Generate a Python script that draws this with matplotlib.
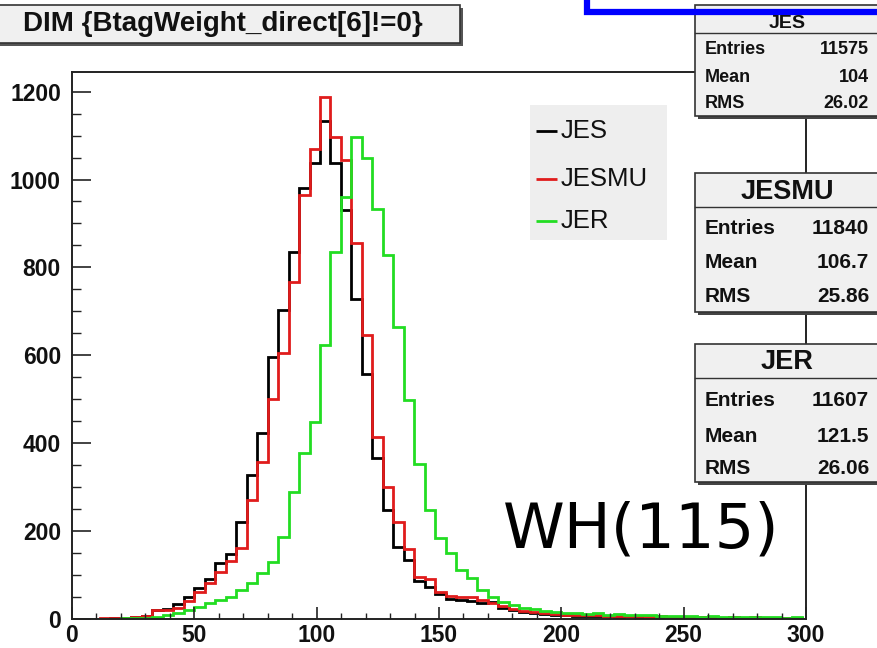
import numpy as np
import matplotlib
matplotlib.use("Agg")
import matplotlib.pyplot as plt
from matplotlib.patches import Rectangle
from matplotlib.ticker import MultipleLocator

# ---------------- data ----------------
x_min, x_max, n_bins = -1.5, 298.5, 70
jes = [0, 0, 0, 0, 1, 2, 4, 5,
       20, 21, 34, 50, 70, 90, 126, 147,
       220, 327, 422, 596, 703, 836, 980, 1037,
       1134,
       1037, 930, 729, 558, 365, 247, 164, 133,
       85, 72, 55, 45, 42, 40, 35, 38, 25, 20, 15, 12, 10, 8,
       7, 6, 6, 5, 5, 4, 5, 4, 3, 4, 3, 3, 2, 3, 2, 2, 3, 2, 1, 2, 2, 1, 2]
jesmu = [0, 0, 0, 1, 1, 2, 4, 6,
         19, 19, 23, 40, 60, 80, 107, 130,
         160, 270, 357, 500, 605, 767, 965, 1069,
         1187,
         1096, 1044, 855, 646, 414, 300, 220, 158,
         95, 90, 60, 52, 50, 48, 42, 35, 28, 22, 18, 15, 12, 10,
         9, 8, 7, 7, 6, 5, 6, 5, 4, 5, 4, 3, 4, 3, 3, 2, 3, 2, 3, 2, 1, 2, 2]
jer = [0, 0, 0, 0, 0, 1, 1, 2, 4,
       8, 12, 19, 27, 35, 42, 50, 65, 80, 103,
       129, 186, 289, 376, 448, 623, 836, 961,
       1096,
       1048, 934, 828, 665, 498, 353, 247, 183, 149, 110, 92, 65, 50, 38, 31, 25, 22, 18, 15,
       13, 12, 11, 12, 9, 10, 8, 7, 8, 6, 5, 6, 5, 4, 5, 4, 3, 4, 3, 4, 3, 2, 3]

series_names = ["JES", "JESMU", "JER"]
series_colors = ["#000000", "#e01c1c", "#22dd22"]
stats = {
    "JES": [("Entries", "11575"), ("Mean", "104"), ("RMS", "26.02")],
    "JESMU": [("Entries", "11840"), ("Mean", "106.7"), ("RMS", "25.86")],
    "JER": [("Entries", "11607"), ("Mean", "121.5"), ("RMS", "26.06")],
}
title = "DIM {BtagWeight_direct[6]!=0}"
annotation = "WH(115)"
x_ticks = [0, 50, 100, 150, 200, 250, 300]
y_ticks = [0, 200, 400, 600, 800, 1000, 1200]

# ---------------- figure ----------------
W, H = 877, 648
fig = plt.figure(figsize=(W / 100, H / 100), dpi=100)
fig.patch.set_facecolor("white")

def fx(x):
    return x / W

def fy(y):
    return 1 - y / H

ax_l, ax_r, ax_t, ax_b = 72, 806, 72, 618.5
ax = fig.add_axes([fx(ax_l), fy(ax_b), (ax_r - ax_l) / W, (ax_b - ax_t) / H])

edges = np.linspace(x_min, x_max, n_bins + 1)
for vals, col in zip([jes, jesmu, jer], series_colors):
    ax.stairs(vals, edges, color=col, lw=2.0, baseline=0)

ax.set_xlim(0, 300)
ax.set_ylim(0, 1245)
for s in ax.spines.values():
    s.set_linewidth(1.4)
    s.set_color("#222222")

ax.set_xticks(x_ticks)
ax.set_yticks(y_ticks)
ax.xaxis.set_minor_locator(MultipleLocator(10))
ax.yaxis.set_minor_locator(MultipleLocator(50))
px = 0.72
ax.tick_params(axis="x", which="major", direction="in", length=12 * px, width=1.2, pad=4, color="#222222")
ax.tick_params(axis="x", which="minor", direction="in", length=6 * px, width=1.0, color="#222222")
ax.tick_params(axis="y", which="major", direction="in", length=19 * px, width=1.2, pad=8, color="#222222")
ax.tick_params(axis="y", which="minor", direction="in", length=9 * px, width=1.0, color="#222222")
for lab in ax.get_xticklabels() + ax.get_yticklabels():
    lab.set_fontfamily("Liberation Sans")
    lab.set_fontweight("bold")
    lab.set_fontsize(16.5)
    lab.set_color("#111111")

# ---------------- overlay ----------------
ov = fig.add_axes([0, 0, 1, 1], zorder=10)
ov.set_xlim(0, W)
ov.set_ylim(H, 0)
ov.axis("off")
ov.patch.set_alpha(0)

box_fc = "#f0f0f0"
edge_c = "#333333"

# title box
ov.add_patch(Rectangle((-5, 8), 468, 38, fc="#555555", ec="none"))
ov.add_patch(Rectangle((-5, 5), 465, 38, fc=box_fc, ec=edge_c, lw=1.2))
ov.text(223, 24, title, ha="center", va="center", fontsize=20,
        fontfamily="Liberation Sans", fontweight="bold", color="#111111")

# legend
ov.add_patch(Rectangle((530, 105), 137, 135, fc="#eeeeee", ec="none"))
for i, (name, col) in enumerate(zip(series_names, series_colors)):
    yy = [131, 179, 221][i]
    ov.plot([536, 557], [yy, yy], color=col, lw=2.0, solid_capstyle="butt")
    ov.text(561, yy, name, ha="left", va="center", fontsize=18.5,
            fontfamily="Liberation Sans", color="#111111")

# stats boxes
def stat_box(name, y0, y1, ydiv, yhead, hsize, row_ys, rsize):
    ov.add_patch(Rectangle((698, y0 + 3), 200, y1 - y0, fc="#444444", ec="none"))
    ov.add_patch(Rectangle((695, y0), 200, y1 - y0, fc=box_fc, ec=edge_c, lw=1.2))
    ov.plot([695, 880], [ydiv, ydiv], color=edge_c, lw=1.0)
    ov.text(787, yhead, name, ha="center", va="center", fontsize=hsize,
            fontfamily="Liberation Sans", fontweight="bold", color="#111111")
    for (lab, val), yy in zip(stats[name], row_ys):
        ov.text(705, yy, lab, ha="left", va="center", fontsize=rsize,
                fontfamily="Liberation Sans", fontweight="bold", color="#111111")
        ov.text(869, yy, val, ha="right", va="center", fontsize=rsize,
                fontfamily="Liberation Sans", fontweight="bold", color="#111111")

stat_box("JES", 5, 116, 33, 23, 14, [49, 77, 104], 13)
stat_box("JESMU", 173, 312, 207, 192, 19.5, [229, 263, 297], 15)
stat_box("JER", 344, 482, 378, 362, 19.5, [400, 436, 469], 15)

# blue frame corner at the top
ov.plot([586.5, 586.5, 890], [-10, 11.7, 11.7], color="#0000ff", lw=4.5,
        solid_joinstyle="miter")

# annotation
ov.text(641, 530, annotation, ha="center", va="center", fontsize=45,
        fontfamily="DejaVu Sans", color="black")

fig.savefig("out.png", dpi=100, facecolor="white")
